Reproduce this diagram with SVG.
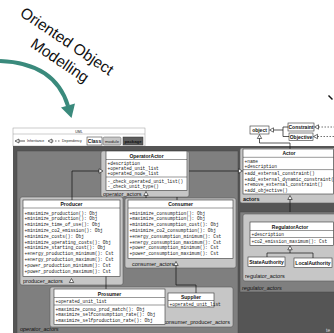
<svg xmlns="http://www.w3.org/2000/svg" width="334" height="333" viewBox="0 0 334 333">
<style>
.dark{fill:#555555}
.med{fill:#7f7f7f;stroke:#4a4a4a;stroke-width:0.5}
.pkg{fill:#c6c6c6;stroke:#5a5a5a;stroke-width:0.6}
.cls{fill:#ffffff;stroke:#333333;stroke-width:0.6}
.sep{stroke:#333333;stroke-width:0.5}
.t{font-family:"Liberation Sans",Arial,sans-serif;font-weight:bold;font-size:5px;text-anchor:middle;fill:#111}
.m{font-family:"Liberation Mono","Courier New",monospace;font-size:4.5px;fill:#222}
.pl{font-family:"Liberation Sans",Arial,sans-serif;font-size:5.5px;fill:#111}
.lg{font-family:"Liberation Sans",Arial,sans-serif;font-size:3.5px;fill:#222}
.ln{stroke:#111;stroke-width:0.7;fill:none}
.dash{stroke:#111;stroke-width:0.6;fill:none;stroke-dasharray:1.5 1.5}
.inh{fill:#ffffff;stroke:#111;stroke-width:0.6}
.title{font-family:"Liberation Sans",Arial,sans-serif;font-size:15.5px;fill:#111;text-anchor:middle}
</style>

<!-- title and arrow -->
<g id="title">
  <g transform="translate(64,45.5) rotate(34)">
    <text class="title" x="0" y="0">Oriented Object</text>
    <text class="title" x="5" y="20">Modelling</text>
  </g>
  <path d="M0,61 Q55,63 68,106" fill="none" stroke="#3a8a7c" stroke-width="4"/>
  <polygon points="71.5,118 61,107.5 75,103.5" fill="#3a8a7c"/>
  <line x1="328.5" y1="95.5" x2="332.5" y2="99.5" stroke="#111" stroke-width="1.5"/>
</g>

<!-- legend -->
<g id="legend">
  <rect x="13" y="128" width="132" height="18" fill="#fff" stroke="#999" stroke-width="0.5"/>
  <line x1="13" y1="134" x2="145" y2="134" stroke="#999" stroke-width="0.5"/>
  <text class="lg" x="79" y="133" text-anchor="middle">UML</text>
  <polygon class="inh" points="15,141 19,139 19,143"/>
  <line class="ln" x1="19" y1="141" x2="25" y2="141" stroke-width="0.5"/>
  <text class="lg" x="27" y="142.3">Inheritance</text>
  <polygon class="inh" points="48,141 52,139 52,143"/>
  <line class="dash" x1="52" y1="141" x2="61" y2="141" stroke-dasharray="1 1"/>
  <text class="lg" x="62" y="142.3">Dependency</text>
  <rect x="87" y="137" width="15" height="8" fill="#fff" stroke="#222" stroke-width="0.5"/>
  <text class="t" x="94.5" y="142.8" font-size="4.5">Class</text>
  <rect x="103" y="137" width="18" height="8" rx="1.5" fill="#c6c6c6" stroke="#555" stroke-width="0.5"/>
  <text x="112" y="142.8" font-family="Liberation Sans, Arial, sans-serif" font-size="4.3" text-anchor="middle" fill="#222">module</text>
  <rect x="123" y="137" width="20" height="8" fill="#5e5e5e" stroke="#333" stroke-width="0.5"/>
  <text x="133" y="142.8" font-family="Liberation Sans, Arial, sans-serif" font-size="4.3" font-weight="bold" text-anchor="middle" fill="#111">package</text>
</g>

<!-- packages / backgrounds -->
<g id="packages">
  <rect class="dark" x="13" y="146" width="321" height="187"/>
  <rect class="med" x="17" y="151" width="221" height="184"/>
  <text class="pl" x="20" y="331" font-style="italic">operator_actors</text>
  <rect class="med" x="240" y="212" width="96" height="80" fill="#8a8a8a"/>
  <text class="pl" x="242" y="290" font-style="italic">regulator_actors</text>
  <text x="326" y="332" font-family="Liberation Sans, Arial, sans-serif" font-size="5" fill="#ddd">te</text>
</g>

<!-- OperatorActor -->
<g id="operator_actor">
  <rect class="pkg" x="101" y="151" width="88" height="46" rx="2"/>
  <text class="pl" x="103" y="195.5">operator_actors</text>
  <polygon class="inh" points="146,191.5 143.8,195.5 148.2,195.5"/>
  <rect class="cls" x="106" y="151" width="81" height="39.5"/>
  <text class="t" x="146.5" y="157.5">OperatorActor</text>
  <line class="sep" x1="106" y1="159.5" x2="187" y2="159.5"/>
  <text class="m" x="107.5" y="164.5">+description</text>
  <text class="m" x="107.5" y="169.8">+operated_unit_list</text>
  <text class="m" x="107.5" y="175.1">+operated_node_list</text>
  <line class="sep" x1="106" y1="177" x2="187" y2="177"/>
  <text class="m" x="107.5" y="182.7">-_check_operated_unit_list()</text>
  <text class="m" x="107.5" y="188">-_check_unit_type()</text>
</g>

<!-- Producer -->
<g id="producer">
  <rect class="pkg" x="20" y="197" width="103" height="88" rx="2"/>
  <text class="pl" x="23" y="282.5">producer_actors</text>
  <polygon class="inh" points="71.5,278.5 69.3,282.5 73.7,282.5"/>
  <rect class="cls" x="23" y="200" width="97" height="76.5"/>
  <text class="t" x="71.5" y="206">Producer</text>
  <line class="sep" x1="23" y1="208" x2="120" y2="208"/>
  <text class="m" x="24.5" y="214.5">+maximize_production(): Obj</text>
  <text class="m" x="24.5" y="220.3">+minimize_production(): Obj</text>
  <text class="m" x="24.5" y="226.1">+minimize_time_of_use(): Obj</text>
  <text class="m" x="24.5" y="231.9">+minimize_co2_emission(): Obj</text>
  <text class="m" x="24.5" y="237.7">+minimize_costs(): Obj</text>
  <text class="m" x="24.5" y="243.5">+minimize_operating_costs(): Obj</text>
  <text class="m" x="24.5" y="249.3">+minimize_starting_cost(): Obj</text>
  <text class="m" x="24.5" y="255.1">+energy_production_minimum(): Cst</text>
  <text class="m" x="24.5" y="260.9">+energy_production_maximum(): Cst</text>
  <text class="m" x="24.5" y="266.7">+power_production_minimum(): Cst</text>
  <text class="m" x="24.5" y="272.5">+power_production_maximum(): Cst</text>
</g>

<!-- Consumer -->
<g id="consumer">
  <rect class="pkg" x="125" y="198" width="111" height="70" rx="2"/>
  <text class="pl" x="132" y="265.5">consumer_actors</text>
  <polygon class="inh" points="176,261.5 173.8,265.5 178.2,265.5"/>
  <rect class="cls" x="128" y="200" width="105" height="58.5"/>
  <text class="t" x="180.5" y="206">Consumer</text>
  <line class="sep" x1="128" y1="208" x2="233" y2="208"/>
  <text class="m" x="129.5" y="214.5">+minimize_consumption(): Obj</text>
  <text class="m" x="129.5" y="220.3">+maximize_consumption(): Obj</text>
  <text class="m" x="129.5" y="226.1">+minimize_consumption_cost(): Obj</text>
  <text class="m" x="129.5" y="231.9">+minimize_co2_consumption(): Obj</text>
  <text class="m" x="129.5" y="237.7">+energy_consumption_minimum(): Cst</text>
  <text class="m" x="129.5" y="243.5">+energy_consumption_maximum(): Cst</text>
  <text class="m" x="129.5" y="249.3">+power_consumption_minimum(): Cst</text>
  <text class="m" x="129.5" y="255.1">+power_consumption_maximum(): Cst</text>
</g>

<!-- consumer_producer_actors -->
<g id="consumer_producer">
  <rect class="pkg" x="50" y="287" width="183" height="40" rx="2"/>
  <text class="pl" x="163" y="323.5">consumer_producer_actors</text>
</g>

<g id="prosumer">
  <rect class="cls" x="54" y="289" width="111" height="35.5"/>
  <text class="t" x="109.5" y="295.5">Prosumer</text>
  <line class="sep" x1="54" y1="297.5" x2="165" y2="297.5"/>
  <text class="m" x="55.5" y="303">+operated_unit_list</text>
  <line class="sep" x1="54" y1="305" x2="165" y2="305"/>
  <text class="m" x="55.5" y="310.5">+maximize_conso_prod_match(): Obj</text>
  <text class="m" x="55.5" y="316">+maximize_selfconsumption_rate(): Obj</text>
  <text class="m" x="55.5" y="321.5">+maximize_selfproduction_rate(): Obj</text>
</g>

<g id="supplier">
  <rect class="cls" x="168" y="293" width="46" height="14"/>
  <text class="t" x="191" y="299">Supplier</text>
  <line class="sep" x1="168" y1="300.5" x2="214" y2="300.5"/>
  <text class="m" x="169.5" y="305.5" font-size="3.7">+operated_unit_list</text>
</g>

<!-- actors -->
<g id="actors_pkg">
  <rect class="pkg" x="240" y="148" width="96" height="55" rx="2"/>
  <text class="pl" x="243" y="200.5" font-weight="bold">actors</text>
  <polygon class="inh" points="290,195.5 287.8,199.5 292.2,199.5"/>
</g>
<g id="actor">
  <rect class="cls" x="243" y="149" width="90.5" height="45"/>
  <text class="t" x="289" y="155.3">Actor</text>
  <line class="sep" x1="243" y1="157.3" x2="333.5" y2="157.3"/>
  <text class="m" x="244.5" y="162.5">+name</text>
  <text class="m" x="244.5" y="167.6">+description</text>
  <line class="sep" x1="243" y1="169.6" x2="333.5" y2="169.6"/>
  <text class="m" x="244.5" y="175.2">+add_external_constraint()</text>
  <text class="m" x="244.5" y="180.7" font-size="3.8">+add_external_dynamic_constraint()</text>
  <text class="m" x="244.5" y="186.2">+remove_external_constraint()</text>
  <text class="m" x="244.5" y="191.7">+add_objective()</text>
</g>

<!-- regulator -->
<g id="regulator_pkg">
  <rect class="pkg" x="243" y="214" width="93" height="67" rx="2"/>
  <text class="pl" x="245" y="278">regulator_actors</text>
</g>
<g id="regulator_actor">
  <rect class="cls" x="250" y="222" width="83.5" height="23.5"/>
  <text class="t" x="290" y="228.5">RegulatorActor</text>
  <line class="sep" x1="250" y1="230.5" x2="333.5" y2="230.5"/>
  <text class="m" x="251.5" y="235.7">+description</text>
  <line class="sep" x1="250" y1="237.5" x2="333.5" y2="237.5"/>
  <text class="m" x="251.5" y="243">+co2_emission_maximum(): Cst</text>
</g>
<g id="state_authority">
  <rect class="cls" x="248" y="257" width="37" height="9.5"/>
  <text class="t" x="266.5" y="263.5" font-size="4.2">StateAuthority</text>
</g>
<g id="local_authority">
  <rect class="cls" x="294" y="258" width="38" height="9.5"/>
  <text class="t" x="313" y="264.5" font-size="4.2">LocalAuthority</text>
</g>

<!-- object / constraint / objective -->
<g id="object">
  <rect class="cls" x="250" y="126" width="19" height="8"/>
  <text class="t" x="259.5" y="132">object</text>
</g>
<g id="constraint">
  <rect class="cls" x="288" y="123" width="26" height="8"/>
  <text class="t" x="301" y="129">Constraint</text>
</g>
<g id="objective">
  <rect class="cls" x="289" y="133" width="24" height="7.5"/>
  <text class="t" x="301" y="138.7">Objective</text>
</g>

<!-- connectors -->
<g id="connectors">
  <path class="ln" d="M72,200 V171 H99"/>
  <polygon class="inh" points="103,171 99,168.8 99,173.2"/>
  <path class="ln" d="M189,171 H238"/>
  <polygon class="inh" points="242.5,171 238.5,168.8 238.5,173.2"/>
  <path class="ln" d="M146,195.5 V198"/>
  <path class="ln" d="M177,197 V200"/>
  <path class="ln" d="M106,276.5 V289"/>
  <path class="ln" d="M176,265.5 V285 H196 V293"/>
  <path class="ln" d="M290,199.5 V212"/>
  <polygon class="inh" points="290,245.8 287.8,249.8 292.2,249.8"/>
  <path class="ln" d="M290,249.8 V253 M267,253 H313 M267,253 V257 M313,253 V258"/>
  <polygon class="inh" points="269.5,130 273.5,127.8 273.5,132.2"/>
  <path class="ln" d="M273.5,130 H283 M283,127 V136.5 M283,127 H288 M283,136.5 H289"/>
  <polygon class="inh" points="314.5,127 318.5,124.8 318.5,129.2"/>
  <line class="dash" x1="318.5" y1="127" x2="334" y2="127"/>
  <polygon class="inh" points="313.5,136.5 317.5,134.3 317.5,138.7"/>
  <line class="dash" x1="317.5" y1="136.5" x2="334" y2="136.5"/>
  <polygon class="inh" points="259.5,134.5 257.3,138.5 261.7,138.5"/>
  <path class="ln" d="M259.5,138.5 V143 H290 V149"/>
</g>
</svg>
